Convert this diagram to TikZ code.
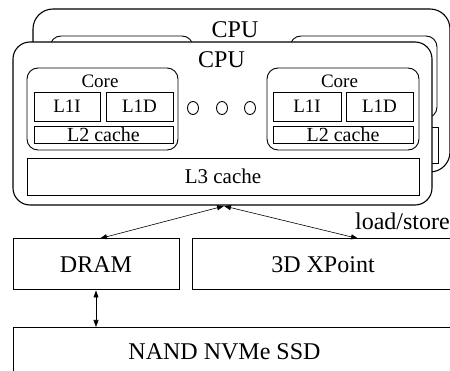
\documentclass[tikz,border=0pt]{standalone}
\usepackage{fontspec}
\setmainfont{Liberation Serif}
\usetikzlibrary{
  arrows.meta,
  positioning,
  shapes.geometric,
  calc
}
\newcommand\fsbig{\fontsize{24}{26}\selectfont}
\newcommand\fsmid{\fontsize{21}{23}\selectfont}
\newcommand\fssml{\fontsize{19}{21}\selectfont}
\tikzset{
  chip/.style={
    draw, fill=white, rounded corners=17pt,
    line width=1.1pt, inner sep=0pt
  },
  corebox/.style={
    draw, fill=white, rounded corners=11pt,
    line width=0.9pt, inner sep=0pt
  },
  cachebox/.style={
    draw, fill=white, line width=0.9pt,
    inner sep=0pt, font=\fssml
  },
  membox/.style={
    draw, fill=white, line width=1pt,
    inner sep=0pt, font=\fsbig
  },
  ring/.style={
    ellipse, draw, line width=0.9pt,
    minimum width=11pt, minimum height=13pt, inner sep=0pt
  },
  link/.style={
    {Triangle[length=7pt,width=5pt]}-{Triangle[length=7pt,width=5pt]},
    line width=0.6pt
  },
}

\begin{document}
\begin{tikzpicture}[x=1pt, y=-1pt]
\useasboundingbox (0,0) rectangle (450,371);
\clip (0,0) rectangle (450,371);

% ── Back CPU ──────────────────────────────────────────────────────────────────
\node[chip, rounded corners=20pt, minimum width=417pt, minimum height=163pt]
  (cpuB) at (241.5,90.5) {};
\node[font=\fsbig] (cpuBlbl) at (235,29.5) {CPU};
\node[corebox, minimum width=143pt, minimum height=82pt] (coreBl) at (121.5,77) {};
\node[corebox, minimum width=147pt, minimum height=82pt] (coreBr) at (363.5,77) {};
\node[cachebox, minimum width=392pt, minimum height=36pt] (l3B) at (242,145) {};

% ── Front CPU ─────────────────────────────────────────────────────────────────
\node[chip, minimum width=419pt, minimum height=163pt] (cpuF) at (222.5,123.5) {};
\node[font=\fsbig] (cpuFlbl) at (221.5,59.5) {CPU};

% ── Left core ─────────────────────────────────────────────────────────────────
\node[corebox, minimum width=151pt, minimum height=82pt] (coreL) at (102.5,109) {};
\node[font=\fssml] (coreLlbl) at (100,81.5) {Core};
\node[cachebox, minimum width=66pt, minimum height=29pt] (l1iL) at (67,106.5) {L1I};
\node[cachebox, minimum width=67pt, minimum height=29pt] (l1dL) at (139.5,106.5) {L1D};
\node[cachebox, minimum width=139pt, minimum height=17pt, font=\fontsize{20}{22}\selectfont]
  (l2L) at (103.5,134.5) {L2 cache};

% ── Dots between cores ────────────────────────────────────────────────────────
\foreach \x [count=\i] in {193,222,250}
  \node[ring] (dot\i) at (\x,108) {};

% ── Right core ────────────────────────────────────────────────────────────────
\node[corebox, minimum width=152pt, minimum height=82pt] (coreR) at (343,109) {};
\node[font=\fssml] (coreRlbl) at (339.5,81.5) {Core};
\node[cachebox, minimum width=68pt, minimum height=29pt] (l1iR) at (307,106.5) {L1I};
\node[cachebox, minimum width=67pt, minimum height=29pt] (l1dR) at (379.5,106.5) {L1D};
\node[cachebox, minimum width=140pt, minimum height=17pt, font=\fontsize{20}{22}\selectfont]
  (l2R) at (343,134.5) {L2 cache};

% ── Shared L3 ─────────────────────────────────────────────────────────────────
\node[cachebox, minimum width=392pt, minimum height=37pt, font=\fsmid]
  (l3F) at (223,176.5) {L3 cache};

% ── Memory and storage ────────────────────────────────────────────────────────
\node[membox, minimum width=166pt, minimum height=51pt] (dram) at (96,264.5) {DRAM};
\node[membox, minimum width=262pt, minimum height=51pt] (xpoint) at (323,264.5) {3D XPoint};
\node[membox, minimum width=450pt, minimum height=60pt, anchor=north west]
  (nand) at (13,327) {};
\node[font=\fsbig] (nandlbl) at (224.5,352) {NAND NVMe SSD};

% ── Connectors ────────────────────────────────────────────────────────────────
\coordinate (bus) at (224,206);
\draw[link] (bus) -- ([xshift=4pt]dram.north);
\draw[link] (bus) -- ([xshift=35pt]xpoint.north);
\draw[link] (dram.south) -- (dram.south |- nand.north);

\node[font=\fsbig, inner sep=0pt, anchor=base east] (ldst) at (450,230) {load/store};

\end{tikzpicture}
\end{document}
